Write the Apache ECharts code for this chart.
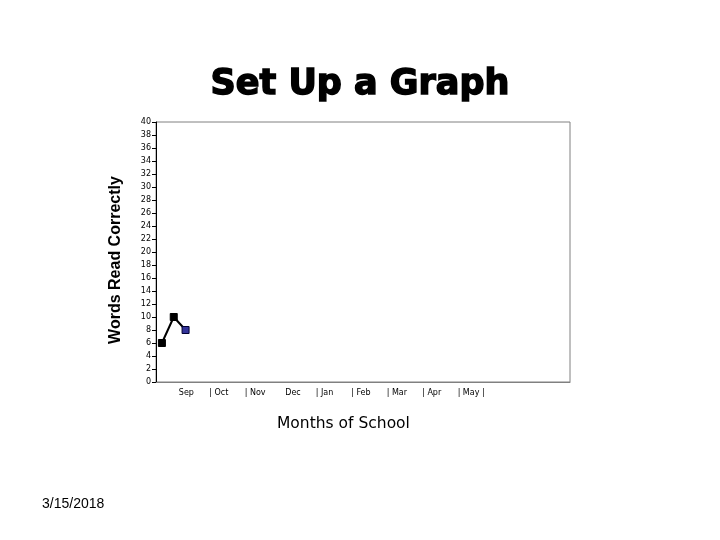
<!DOCTYPE html>
<html>
<head>
<meta charset="utf-8">
<script src="https://cdn.jsdelivr.net/npm/echarts@6/dist/echarts.min.js"></script>
<style>
  html, body { margin: 0; padding: 0; background: #fff; }
  #chart { width: 720px; height: 540px; }
</style>
</head>
<body>
<div id="chart"></div>
<script>
// sessions across the school year, 3 slots per month
const sessions = [];
for (let i = 1; i <= 35; i++) sessions.push(String(i));
const wordsRead = [6, 10, 8];
const monthLabels = ['  Sep', '| Oct', '| Nov', '  Dec', '| Jan', '| Feb', '| Mar', '| Apr', '| May |'];
const yTicks = { min: 0, max: 40, step: 2 };

const chart = echarts.init(document.getElementById('chart'));

const option = {
    backgroundColor: '#fff',
    animation: false,
    title: [
        {
            text: 'Set Up a Graph',
            left: 'center',
            top: 62,
            textStyle: {
                fontFamily: 'DejaVu Sans', fontWeight: 'bold', fontSize: 35, color: '#000',
                textBorderColor: '#000', textBorderWidth: 1.5
            }
        },
        {
            text: 'Months of School',
            left: 272,
            top: 411,
            textStyle: { fontFamily: 'DejaVu Sans', fontWeight: 'normal', fontSize: 15.5, color: '#000' }
        },
        {
            text: '3/15/2018',
            left: 37,
            top: 492,
            textStyle: { fontFamily: 'Liberation Sans', fontWeight: 'normal', fontSize: 14, color: '#000' }
        }
    ],
    grid: {
        left: 156,
        right: 150,
        top: 122,
        bottom: 158,
        show: true,
        borderColor: '#808080',
        borderWidth: 1
    },
    xAxis: {
        type: 'category',
        data: sessions,
        boundaryGap: true,
        axisLine: { lineStyle: { color: '#808080', width: 1 } },
        axisTick: { show: false },
        axisLabel: {
            interval: 0,
            align: 'left',
            margin: 7,
            fontFamily: 'DejaVu Sans',
            fontSize: 8,
            color: '#000',
            formatter: function (v, idx) {
                if (idx % 3 === 1) {
                    const m = (idx - 1) / 3;
                    return monthLabels[m] || '';
                }
                return '';
            }
        },
        splitLine: { show: false }
    },
    yAxis: {
        type: 'value',
        min: yTicks.min,
        max: yTicks.max,
        interval: yTicks.step,
        name: 'Words Read Correctly',
        nameLocation: 'middle',
        nameGap: 32,
        nameTextStyle: { fontFamily: 'Liberation Sans', fontWeight: 'bold', fontSize: 16, color: '#000', padding: [0, 0, 0, -16] },
        axisLine: { show: true, lineStyle: { color: '#000', width: 1 } },
        axisTick: { show: true, length: 4, lineStyle: { color: '#000' } },
        axisLabel: { fontFamily: 'DejaVu Sans', fontSize: 8, color: '#000', margin: 5 },
        splitLine: { show: false }
    },
    series: [
        {
            type: 'line',
            data: wordsRead.map(function (v, i) {
                if (i === wordsRead.length - 1) {
                    return { value: v, itemStyle: { color: '#333399', borderColor: '#000033', borderWidth: 1 } };
                }
                return v;
            }),
            symbol: 'rect',
            symbolSize: 7,
            showAllSymbol: true,
            lineStyle: { color: '#000', width: 2 },
            itemStyle: { color: '#000', borderColor: '#000', borderWidth: 1 }
        }
    ]
};

chart.setOption(option);
window.addEventListener('resize', function () {
    chart.resize();
});
</script>
</body>
</html>
